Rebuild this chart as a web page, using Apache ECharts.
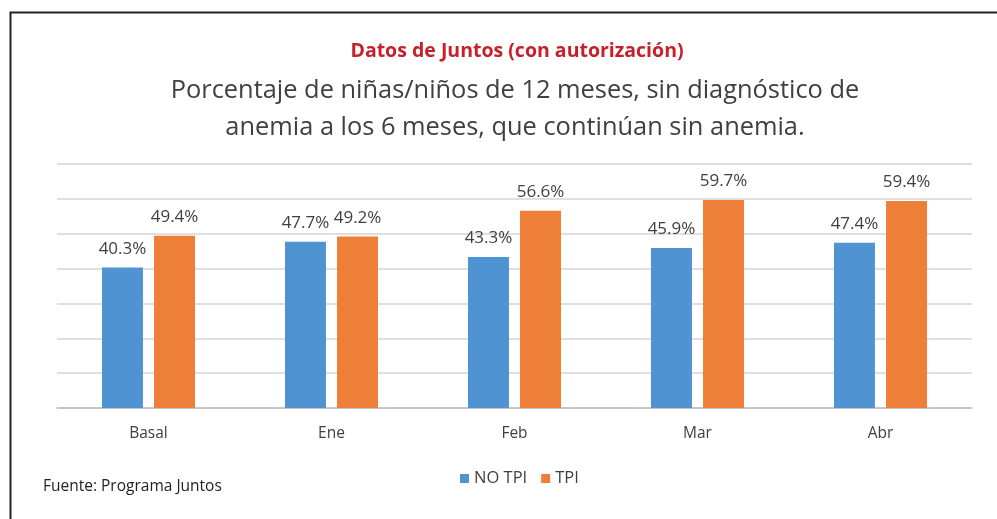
<!DOCTYPE html>
<html>
<head>
<meta charset="utf-8">
<script src="https://cdn.jsdelivr.net/npm/echarts@6/dist/echarts.min.js"></script>
<style>
  html, body { margin: 0; padding: 0; background: #ffffff; }
  #chart { width: 997px; height: 519px; }
</style>
</head>
<body>
<div id="chart"></div>
<script>
// Categories (months) and the two series of percentages
const categories = ['Basal', 'Ene', 'Feb', 'Mar', 'Abr'];
const noTpi = [40.3, 47.7, 43.3, 45.9, 47.4];
const tpi = [49.4, 49.2, 56.6, 59.7, 59.4];
const seriesNames = ['NO TPI', 'TPI'];

const FONT = '"Open Sans", "Noto Sans", sans-serif';

const chart = echarts.init(document.getElementById('chart'), null, { renderer: 'canvas' });

const valueLabel = {
  show: true,
  position: 'top',
  distance: 10,
  color: '#404040',
  fontFamily: FONT,
  fontSize: 17,
  formatter: p => p.value.toFixed(1) + '%'
};

chart.setOption({
  backgroundColor: '#ffffff',
  animation: false,
  title: [
    {
      text: 'Datos de Juntos (con autorización)',
      left: 512, top: 36, textAlign: 'center',
      textStyle: { color: '#c8202a', fontFamily: FONT, fontWeight: 'bold', fontSize: 19.5 }
    },
    {
      text: 'Porcentaje de niñas/niños de 12 meses, sin diagnóstico de\nanemia a los 6 meses, que continúan sin anemia.',
      left: 510, top: 67, textAlign: 'center',
      textStyle: { color: '#404040', fontFamily: FONT, fontWeight: 'normal', fontSize: 25.4, lineHeight: 37 }
    }
  ],
  graphic: [
    {
      type: 'rect', left: 8, top: 10, silent: true,
      shape: { width: 1000, height: 520 },
      style: { fill: 'none', stroke: '#222222', lineWidth: 2 }
    },
    {
      type: 'text', left: 43, top: 479,
      style: { text: 'Fuente: Programa Juntos', fill: '#222222', font: '15.5px ' + FONT }
    }
  ],
  legend: {
    data: seriesNames,
    left: 455, top: 465,
    itemWidth: 9, itemHeight: 9, itemGap: 14,
    icon: 'rect',
    textStyle: { color: '#404040', fontFamily: FONT, fontSize: 16.5, padding: [0, 0, 0, 0] }
  },
  grid: { left: 57, right: 25, top: 164, bottom: 111, containLabel: false },
  xAxis: {
    type: 'category',
    data: categories,
    axisLine: { show: true, lineStyle: { color: '#bfbfbf', width: 1.5 } },
    axisTick: { show: false },
    axisLabel: { color: '#404040', fontFamily: FONT, fontSize: 15.5, margin: 18 }
  },
  yAxis: {
    type: 'value',
    min: 0, max: 70, interval: 10,
    axisLine: { show: false },
    axisTick: { show: false },
    axisLabel: { show: false },
    splitLine: { lineStyle: { color: '#d4d4d4', width: 1.5 } }
  },
  series: [
    {
      name: seriesNames[0], type: 'bar', data: noTpi,
      barWidth: '22.4%', barGap: '27%',
      itemStyle: { color: '#4f93d3' },
      label: valueLabel
    },
    {
      name: seriesNames[1], type: 'bar', data: tpi,
      barWidth: '22.4%',
      itemStyle: { color: '#ee7f38' },
      label: valueLabel
    }
  ]
});
</script>
</body>
</html>
